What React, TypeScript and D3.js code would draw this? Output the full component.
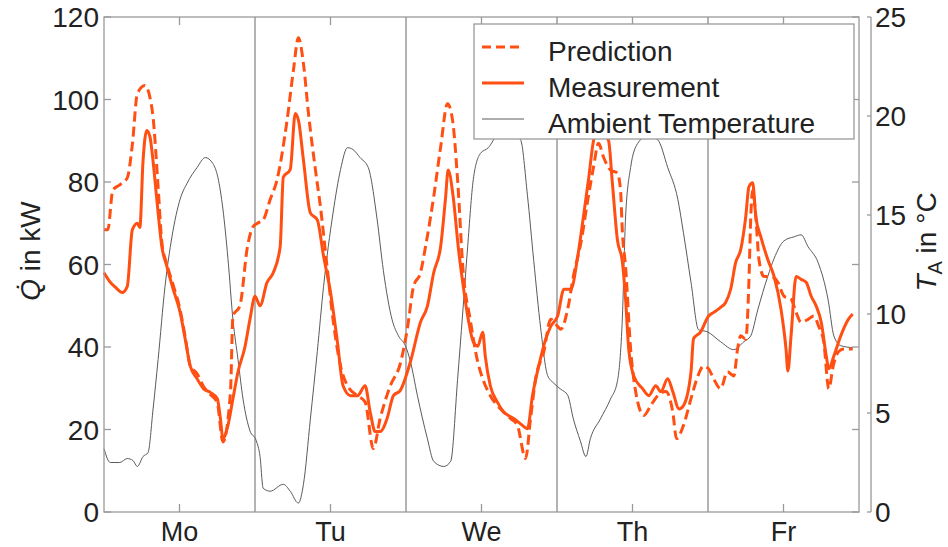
import React from "react";
import * as d3 from "d3";

// ---- data (hours since Monday 00:00, value) ----
const days = ["Mo", "Tu", "We", "Th", "Fr"];
const qTicks = [0, 20, 40, 60, 80, 100, 120];
const tTicks = [0, 5, 10, 15, 20, 25];

const ambientTemp: [number, number][] = [[0,3.2],[1.0,2.5],[2.5,2.5],[3.7,2.7],[4.6,2.6],[5.3,2.3],[6.2,2.8],[7.0,3.0],[7.8,5.2],[8.6,7.7],[9.7,11.4],[10.8,13.9],[12.1,15.8],[13.2,16.6],[14.8,17.4],[16.1,17.9],[17.3,17.6],[18.1,16.9],[18.9,15.3],[19.7,12.8],[20.5,9.7],[21.3,7.7],[22.1,5.7],[23.2,4.1],[24.2,3.6],[24.8,2.8],[25.3,1.2],[26.4,1.05],[28.5,1.4],[29.6,1.05],[30.9,0.45],[31.7,1.4],[32.8,4.7],[33.9,8.1],[34.9,11.4],[36.4,15.1],[37.6,17.3],[38.7,18.4],[39.6,18.3],[40.7,17.9],[42.0,17.4],[43.4,14.8],[44.4,12.2],[45.8,9.7],[46.8,8.9],[47.9,8.4],[48.7,7.6],[49.8,5.9],[51.4,3.7],[52.4,2.56],[54.0,2.3],[55.1,2.56],[56.2,6.7],[57.0,10],[57.8,13.4],[58.7,16.8],[59.8,18.1],[61.1,18.4],[62.5,19.0],[64.6,19.1],[66.2,18.8],[67.3,16.0],[68.3,12.7],[69.4,9.3],[70.5,6.9],[71.5,6.5],[72.6,6.2],[73.7,5.9],[74.6,4.7],[75.7,3.6],[76.6,2.8],[77.3,3.7],[78.9,4.7],[80.5,5.7],[81.6,6.6],[82.4,9.9],[82.9,14.9],[83.7,17.4],[84.8,18.6],[86.4,19.0],[88.0,18.8],[89.6,17.4],[91.2,15.8],[92.1,14.1],[93.3,11.6],[94.5,9.2],[95.9,9.1],[98.0,8.6],[100.1,8.2],[101.7,8.6],[102.8,8.9],[103.9,10.2],[105.5,11.9],[106.5,12.8],[108.1,13.7],[109.7,13.9],[110.8,14.0],[111.9,13.4],[113.5,12.6],[115.1,10.7],[116.0,8.9],[117.1,8.4],[119.0,8.3]];

const measurement: [number, number][] = [[0,58],[1.0,55.7],[1.8,54.5],[2.9,53.2],[3.7,54.7],[4.5,68.4],[5.3,70],[5.7,69],[6.2,85],[6.8,92.5],[7.3,91],[7.8,85],[8.4,75.7],[9.2,64.3],[10.0,59.5],[11.0,54],[12.1,48.4],[12.9,42],[13.7,35.4],[14.8,32.3],[15.8,29.9],[16.9,29],[18.0,27.5],[18.5,22.7],[18.9,17.8],[19.7,21],[20.5,27.5],[21.3,34],[22.4,40],[23.2,46.7],[24.0,52.3],[24.8,50],[25.9,55.6],[26.9,58],[28.0,64.3],[28.5,81.2],[29.6,83],[30.4,96.6],[30.9,95],[31.7,85.3],[32.8,72.5],[33.9,70.8],[34.9,62],[36.0,53.3],[37.1,41.2],[38.0,30.6],[39.2,28.2],[40.3,28.2],[41.5,30.6],[42.3,24.3],[43.1,19.5],[43.9,19.5],[45.0,22.7],[46.0,28.2],[47.1,29.5],[48.7,36.4],[50.3,46],[51.4,49.9],[52.4,58],[53.5,64.3],[54.3,76.4],[54.7,82.9],[55.5,76.4],[56.3,64.3],[57.1,54.7],[57.9,46.7],[58.7,41.2],[59.4,40.2],[60.2,43.6],[60.6,37.8],[61.4,30.6],[62.5,26.7],[63.5,24.3],[65.1,22.7],[66.5,21],[67.3,20.2],[68.1,28.2],[69.1,35.4],[70.2,41.9],[71.0,45],[72.1,47.5],[73.1,54],[74.2,54],[75.3,62],[76.2,71.6],[77.0,80.5],[77.8,90],[78.5,93],[79.3,92],[80.2,90],[80.8,79.8],[81.6,66],[82.4,60.5],[82.9,51.6],[83.4,39.5],[84.2,33],[85.6,29.9],[86.6,28.2],[87.7,30.6],[88.5,29.2],[89.6,32.3],[90.4,29.2],[91.4,25],[92.1,25.8],[93.3,34],[93.7,42],[94.8,43.6],[96.1,47.5],[96.9,48.4],[98.0,49.6],[98.8,50.8],[99.6,54],[100.4,60.5],[101.2,63.6],[102.0,71.6],[102.5,78.8],[103.1,79.8],[103.6,71.6],[104.4,66.7],[105.5,61.2],[106.5,57.1],[107.6,49.2],[108.4,39.5],[108.7,34.2],[109.2,42.7],[110.0,57.1],[110.8,56.4],[111.6,55.7],[112.4,52.3],[113.2,49.9],[114.0,46],[114.8,37.8],[115.2,34.7],[116.0,37.8],[117.1,42.7],[118.3,46.7],[119.0,48]];

const prediction: [number, number][] = [[0,68.4],[0.6,68.4],[1.4,78],[2.5,79.3],[3.7,81],[4.5,89],[5.3,101.4],[6.5,103.4],[7.3,100.5],[7.8,95.7],[8.6,78.8],[9.2,65.3],[10.0,60],[11.0,55],[12.1,49],[12.9,42.5],[13.7,35.5],[14.8,33.5],[15.8,30.5],[16.9,28.5],[18.0,26.5],[18.9,17],[20.1,29],[20.5,47.5],[21.6,50],[22.8,64.3],[23.7,69.2],[24.4,70],[25.3,70.8],[26.4,75.7],[27.5,80.5],[29.1,95],[30.1,107],[30.9,115],[31.7,108.7],[32.5,96.6],[33.6,83],[34.4,74],[35.5,58.8],[36.4,46.7],[37.6,35.4],[38.7,30.6],[40.3,28.2],[41.5,26.7],[42.8,15.4],[43.9,22.7],[45.5,30.6],[47.1,36],[48.2,44.3],[49.2,54.7],[50.3,58],[51.1,64.3],[52.4,76.4],[53.5,88.4],[54.6,99],[55.4,95],[56.2,80.5],[57.1,58],[58.2,46.7],[59.4,36.4],[60.2,32.3],[61.4,28.2],[63.0,25],[64.6,22.7],[65.7,21],[67.0,13],[67.8,22.7],[68.6,32.3],[69.9,38.8],[71.0,46.7],[72.1,45],[72.6,44.3],[73.7,49.2],[74.6,57.1],[75.8,65.3],[76.9,75.7],[77.8,83.6],[78.6,89.4],[79.4,86],[80.5,82.9],[81.6,82.2],[82.1,78],[82.4,67.7],[82.9,59.5],[83.7,39.5],[84.5,29.2],[85.8,23.4],[86.9,25.8],[88.0,28.2],[89.3,29.2],[90.4,24.3],[91.0,17.8],[92.1,21],[93.3,27.5],[94.4,33],[95.3,35.4],[96.1,34.7],[96.9,32.3],[98.0,29.9],[99.1,34],[100.1,33],[100.7,39.5],[101.2,42.7],[102.0,41.9],[102.5,55.7],[102.8,71.6],[103.1,78],[103.6,71.6],[104.1,61.2],[104.9,57.1],[106.0,57.1],[107.1,55.7],[108.1,52.3],[109.2,51.6],[110.0,48.4],[110.8,46],[111.9,46.7],[112.8,47.5],[113.6,45],[114.4,41.2],[115.2,29.9],[115.9,35.4],[116.7,38.8],[117.6,39.5],[119.0,39.5]];

const legendLabels = ["Prediction", "Measurement", "Ambient Temperature"];

const W = 948;
const H = 547;
const ORANGE = "#ff4f12";
const AXIS = "#9a9a9a";
const TEXT = "#222";
const FONT = "'Liberation Sans', Arial, Helvetica, sans-serif";

export default function App() {
  const left = 104, right = 859, top = 17, bottom = 512;
  const x = d3.scaleLinear().domain([0, 120]).range([left, right]);
  const yQ = d3.scaleLinear().domain([0, 120]).range([bottom, top]);
  const yT = d3.scaleLinear().domain([0, 25]).range([bottom, top]);

  const lineQ = d3.line<[number, number]>().x(d => x(d[0])).y(d => yQ(d[1])).curve(d3.curveMonotoneX);
  const lineT = d3.line<[number, number]>().x(d => x(d[0])).y(d => yT(d[1])).curve(d3.curveMonotoneX);

  const dayCenters = days.map((_, i) => 24 * i + 12);
  const daySeps = [24, 48, 72, 96];
  const rAxis = 871;

  const legX = 474, legY = 24, legW = 380, legH = 115;
  const rowY = [47, 83, 119];

  return (
    <svg width={W} height={H} style={{ position: "absolute", left: 0, top: 0, background: "#fff" }} fontFamily={FONT}>
      <rect x={0} y={0} width={W} height={H} fill="#fff" />
      {/* day separators */}
      {daySeps.map(d => (
        <line key={"s" + d} x1={x(d)} x2={x(d)} y1={top} y2={bottom} stroke="#8a8a8a" strokeWidth={1.3} />
      ))}
      {/* data */}
      <path d={lineT(ambientTemp) || ""} fill="none" stroke="#5a5a5a" strokeWidth={1} />
      <path d={lineQ(measurement) || ""} fill="none" stroke={ORANGE} strokeWidth={3} strokeLinejoin="round" />
      <path d={lineQ(prediction) || ""} fill="none" stroke={ORANGE} strokeWidth={3} strokeDasharray="10,5" />

      {/* box */}
      <rect x={left} y={top} width={right - left} height={bottom - top} fill="none" stroke={AXIS} strokeWidth={1.3} />
      {/* left ticks + mirrored right ticks */}
      {qTicks.map(v => (
        <g key={"q" + v}>
          <line x1={left} x2={left + 7} y1={yQ(v)} y2={yQ(v)} stroke={AXIS} strokeWidth={1.3} />
          <line x1={right} x2={right - 7} y1={yQ(v)} y2={yQ(v)} stroke={AXIS} strokeWidth={1.3} />
          <text x={left - 5} y={yQ(v)} dy="0.36em" textAnchor="end" fontSize={28} fill={TEXT}>{v}</text>
        </g>
      ))}
      {/* day ticks */}
      {dayCenters.map((c, i) => (
        <g key={"d" + i}>
          <line x1={x(c)} x2={x(c)} y1={bottom} y2={bottom - 8} stroke={AXIS} strokeWidth={1.3} />
          <line x1={x(c)} x2={x(c)} y1={top} y2={top + 8} stroke={AXIS} strokeWidth={1.3} />
          <text x={x(c)} y={bottom + 29} textAnchor="middle" fontSize={27} fill={TEXT}>{days[i]}</text>
        </g>
      ))}
      {/* right temperature axis */}
      <line x1={rAxis} x2={rAxis} y1={top} y2={bottom} stroke={AXIS} strokeWidth={1.3} />
      {tTicks.map(v => (
        <g key={"t" + v}>
          <line x1={rAxis} x2={rAxis - 4} y1={yT(v)} y2={yT(v)} stroke={AXIS} strokeWidth={1.3} />
          <text x={rAxis + 4} y={yT(v)} dy="0.36em" textAnchor="start" fontSize={28} fill={TEXT}>{v}</text>
        </g>
      ))}

      {/* axis labels */}
      <text transform={`translate(40,251) rotate(-90)`} textAnchor="middle" fontSize={28} fill={TEXT}>
        <tspan fontStyle="italic">{"Q\u0307"}</tspan>
        <tspan> in kW</tspan>
      </text>
      <text transform={`translate(936,242) rotate(-90)`} textAnchor="middle" fontSize={28} fill={TEXT}>
        <tspan fontStyle="italic">T</tspan>
        <tspan fontSize={20} dy={6}>A</tspan>
        <tspan dy={-6}> in °C</tspan>
      </text>

      {/* legend */}
      <rect x={legX} y={legY} width={legW} height={legH} fill="#fff" stroke={AXIS} strokeWidth={1.3} />
      <line x1={482} x2={524} y1={rowY[0]} y2={rowY[0]} stroke={ORANGE} strokeWidth={3} strokeDasharray="9,5" />
      <line x1={482} x2={524} y1={rowY[1]} y2={rowY[1]} stroke={ORANGE} strokeWidth={3} />
      <line x1={482} x2={524} y1={rowY[2]} y2={rowY[2]} stroke="#5a5a5a" strokeWidth={1} />
      {legendLabels.map((l, i) => (
        <text key={l} x={548} y={rowY[i] + 4} dy="0.36em" fontSize={28} fill={TEXT}>{l}</text>
      ))}
    </svg>
  );
}
